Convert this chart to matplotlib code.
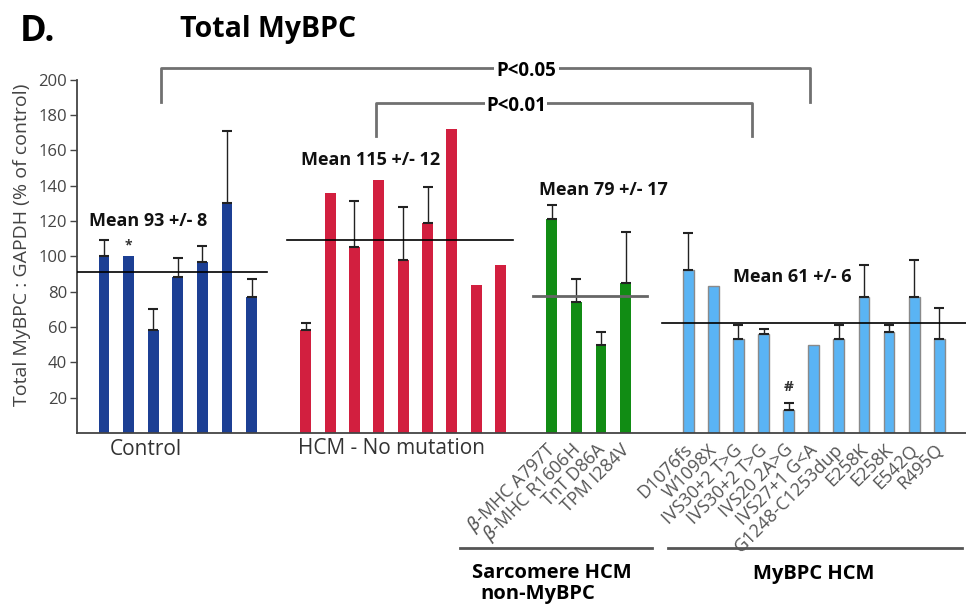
import numpy as np
import matplotlib
matplotlib.use("Agg")
import matplotlib.pyplot as plt

plt.rcParams['font.family'] = ['Open Sans', 'DejaVu Sans']

# values (% of control)
control_vals = [100, 100, 58, 88, 97, 130, 77]
control_err = [9, np.nan, 12, 11, 9, 41, 10]
hcm_vals = [58, 136, 105, 143, 98, 119, 172, 84, 95]
hcm_err = [4, np.nan, 26, np.nan, 30, 20, np.nan, np.nan, np.nan]
sarc_vals = [121, 74, 50, 85]
sarc_err = [8, 13, 7, 29]
sarc_labels = [r"$\beta$-MHC A797T", r"$\beta$-MHC R1606H", "TnT D86A", "TPM I284V"]
mybpc_vals = [92, 83, 53, 56, 13, 50, 53, 77, 57, 77, 53]
mybpc_err = [21, np.nan, 8, 3, 4, np.nan, 8, 18, 4, 21, 18]
mybpc_labels = ["D1076fs", "W1098X", "IVS30+2 T>G", "IVS30+2 T>G", "IVS20 2A>G",
                "IVS27+1 G<A", "G1248-C1253dup", "E258K", "E258K", "E542Q", "R495Q"]
group_means = [91, 109, 77.5, 62]
mean_texts = ["Mean 93 +/- 8", "Mean 115 +/- 12", "Mean 79 +/- 17", "Mean 61 +/- 6"]

colors = ['#1c3f94', '#d21f3f', '#118c14', '#5ab4f4']

fig = plt.figure(figsize=(9.66, 6.06), dpi=100)
ax = fig.add_axes([0.0797, 0.2855, 0.9203, 0.627])

x_ctrl = 1.1 + np.arange(len(control_vals))
x_hcm = 9.3 + np.arange(len(hcm_vals)) * 0.99
x_sarc = 19.3 + np.arange(len(sarc_vals)) * 1.0
x_myb = 24.85 + np.arange(len(mybpc_vals)) * 1.02

w = 0.44
groups = [(x_ctrl, control_vals, control_err, colors[0], 'none'),
          (x_hcm, hcm_vals, hcm_err, colors[1], 'none'),
          (x_sarc, sarc_vals, sarc_err, colors[2], 'none'),
          (x_myb, mybpc_vals, mybpc_err, colors[3], '#8a8a8a')]
for xs, vals, errs, c, ec in groups:
    ax.bar(xs, vals, width=w, color=c, edgecolor=ec, linewidth=1, zorder=2)
    errs = np.array(errs, dtype=float)
    ok = ~np.isnan(errs)
    ax.errorbar(xs[ok], np.array(vals)[ok], yerr=[np.zeros(ok.sum()), errs[ok]],
                fmt='none', ecolor='#222222', elinewidth=1, capsize=3.5, capthick=1.5, zorder=3)

# group mean lines
ax.plot([0, 7.72], [group_means[0]] * 2, color='black', lw=1.2, zorder=4)
ax.plot([8.52, 17.72], [group_means[1]] * 2, color='black', lw=1.2, zorder=4)
ax.plot([18.54, 23.16], [group_means[2]] * 2, color='#666666', lw=2, zorder=4)
ax.plot([23.8, 36.2], [group_means[3]] * 2, color='black', lw=1.2, zorder=4, clip_on=False)

mean_pos = [(0.49, 120), (9.1, 154.5), (18.8, 137.5), (26.67, 88)]
for (mx, my), t in zip(mean_pos, mean_texts):
    ax.text(mx, my, t, fontsize=13, fontweight='bold', ha='left', va='center', color='#111111')

ax.text(x_ctrl[1], 106, "*", fontsize=10, fontweight='bold', ha='center', va='center', color='#333333')
ax.text(x_myb[4], 26, "#", fontsize=11, fontweight='bold', ha='center', va='center', color='#333333')

# significance brackets
br = '#707070'
ax.plot([3.41, 3.41, 29.8, 29.8], [187.3, 206.3, 206.3, 187.3], color=br, lw=2, clip_on=False)
ax.plot([12.15, 12.15, 27.44, 27.44], [168, 186.6, 186.6, 168], color=br, lw=2, clip_on=False)
ax.text(18.27, 205, "P<0.05", fontsize=13.5, fontweight='bold', ha='center', va='center',
        bbox=dict(facecolor='white', edgecolor='none', pad=2))
ax.text(17.85, 185.2, "P<0.01", fontsize=13.5, fontweight='bold', ha='center', va='center',
        bbox=dict(facecolor='white', edgecolor='none', pad=1))

ax.set_xlim(0, 36.14)
ax.set_ylim(0, 215)
ax.set_yticks(np.arange(20, 201, 20))
ax.set_xticks([])
for s in ['top', 'right']:
    ax.spines[s].set_visible(False)
ax.spines['left'].set_bounds(0, 200)
ax.spines['left'].set_color('#444444')
ax.spines['bottom'].set_color('#444444')
ax.spines['left'].set_linewidth(1.3)
ax.spines['bottom'].set_linewidth(1.3)
ax.tick_params(axis='y', direction='out', length=5, width=1, color='#444444',
               labelsize=12, labelcolor='#444444', pad=2)

# category labels
ax.text(2.78, -9.6, "Control", fontsize=15, color='#333333', ha='center', va='center', clip_on=False)
ax.text(12.8, -8.6, "HCM - No mutation", fontsize=15, color='#333333', ha='center', va='center', clip_on=False)
for xs, labels in [(x_sarc, sarc_labels), (x_myb, mybpc_labels)]:
    for xx, lab in zip(xs, labels):
        ax.text(xx + 0.05, -8, lab, fontsize=13, color='#555555', rotation=45,
                rotation_mode='anchor', ha='right', va='center', clip_on=False)

# group underlines
ax.plot([15.57, 23.37], [-65, -65], color='#555555', lw=2, clip_on=False)
ax.plot([24.02, 35.98], [-65, -65], color='#555555', lw=2, clip_on=False)
ax.text(16.05, -79, "Sarcomere HCM", fontsize=14.5, fontweight='bold', ha='left', va='center', clip_on=False)
ax.text(16.38, -91, "non-MyBPC", fontsize=14.5, fontweight='bold', ha='left', va='center', clip_on=False)
ax.text(29.95, -80, "MyBPC HCM", fontsize=14.5, fontweight='bold', ha='center', va='center', clip_on=False)

fig.text(22 / 966, 1 - 245 / 606, "Total MyBPC : GAPDH (% of control)", rotation=90,
         fontsize=14, color='#444444', ha='center', va='center')
fig.text(180 / 966, 1 - 30 / 606, "Total MyBPC", fontsize=20.5, fontweight='bold', ha='left', va='center')
fig.text(20 / 966, 1 - 32 / 606, "D.", fontsize=26, fontweight='bold', ha='left', va='center')

fig.savefig("out.png", dpi=100)
